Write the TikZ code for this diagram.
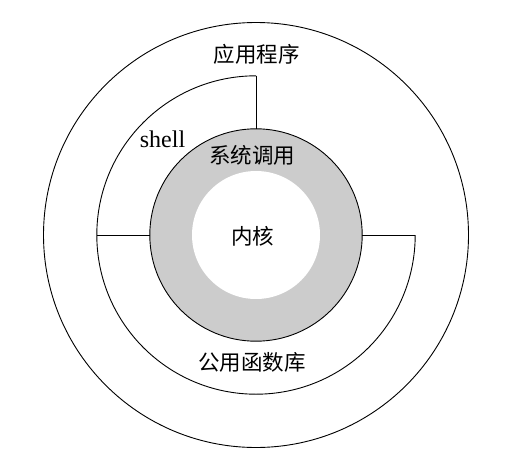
\documentclass[tikz,border=0pt]{standalone}
\usepackage{fontspec}
\setmainfont{Liberation Serif}
\newfontfamily\cjk{Noto Sans CJK SC}
\usepackage{tikz}
\usetikzlibrary{positioning}
\definecolor{ringgray}{RGB}{204,204,204}
\tikzset{
    layer/.style={
           circle,
           inner sep=0pt,
           outer sep=0pt,
           line width=0.9pt,
           },
    label/.style={
           font=\cjk\fontsize{21.5}{25}\selectfont,
           inner sep=1pt,
           },
}

\begin{document}
\begin{tikzpicture}[x=1pt,y=-1pt]
 \useasboundingbox (0,0) rectangle (527,455);
 \coordinate (CENTER) at (256,235);

 % layers, outside in
 \node[layer, draw, minimum size=425pt] (APP) at (CENTER) {};
 \node[layer, minimum size=318.4pt] (SHELL) at (CENTER) {};
 \node[layer, draw, fill=ringgray, minimum size=212.4pt] (SYSCALL) at (CENTER) {};
 \node[layer, fill=white, minimum size=128pt] (KERNEL) at (CENTER) {};

 % shell / library boundary
 \draw[line width=0.9pt] (SHELL.north) arc[start angle=90, end angle=360, radius=159.2pt];
 \draw[line width=0.9pt] (SHELL.north) -- (SYSCALL.north);
 \draw[line width=0.9pt] (SHELL.west) -- (SYSCALL.west);
 \draw[line width=0.9pt] (SHELL.east) -- (SYSCALL.east);

 \node[label] (APPTEXT) at (256.5,54) {应用程序};
 \node[font=\fontsize{24}{28}\selectfont, inner sep=1pt] (SHELLTEXT) at (162.5,139) {shell};
 \node[label] (SYSTEXT) at (252,155) {系统调用};
 \node[label] (KERNELTEXT) at (252.5,236) {内核};
 \node[label] (LIBTEXT) at (252,362) {公用函数库};
\end{tikzpicture}
\end{document}
